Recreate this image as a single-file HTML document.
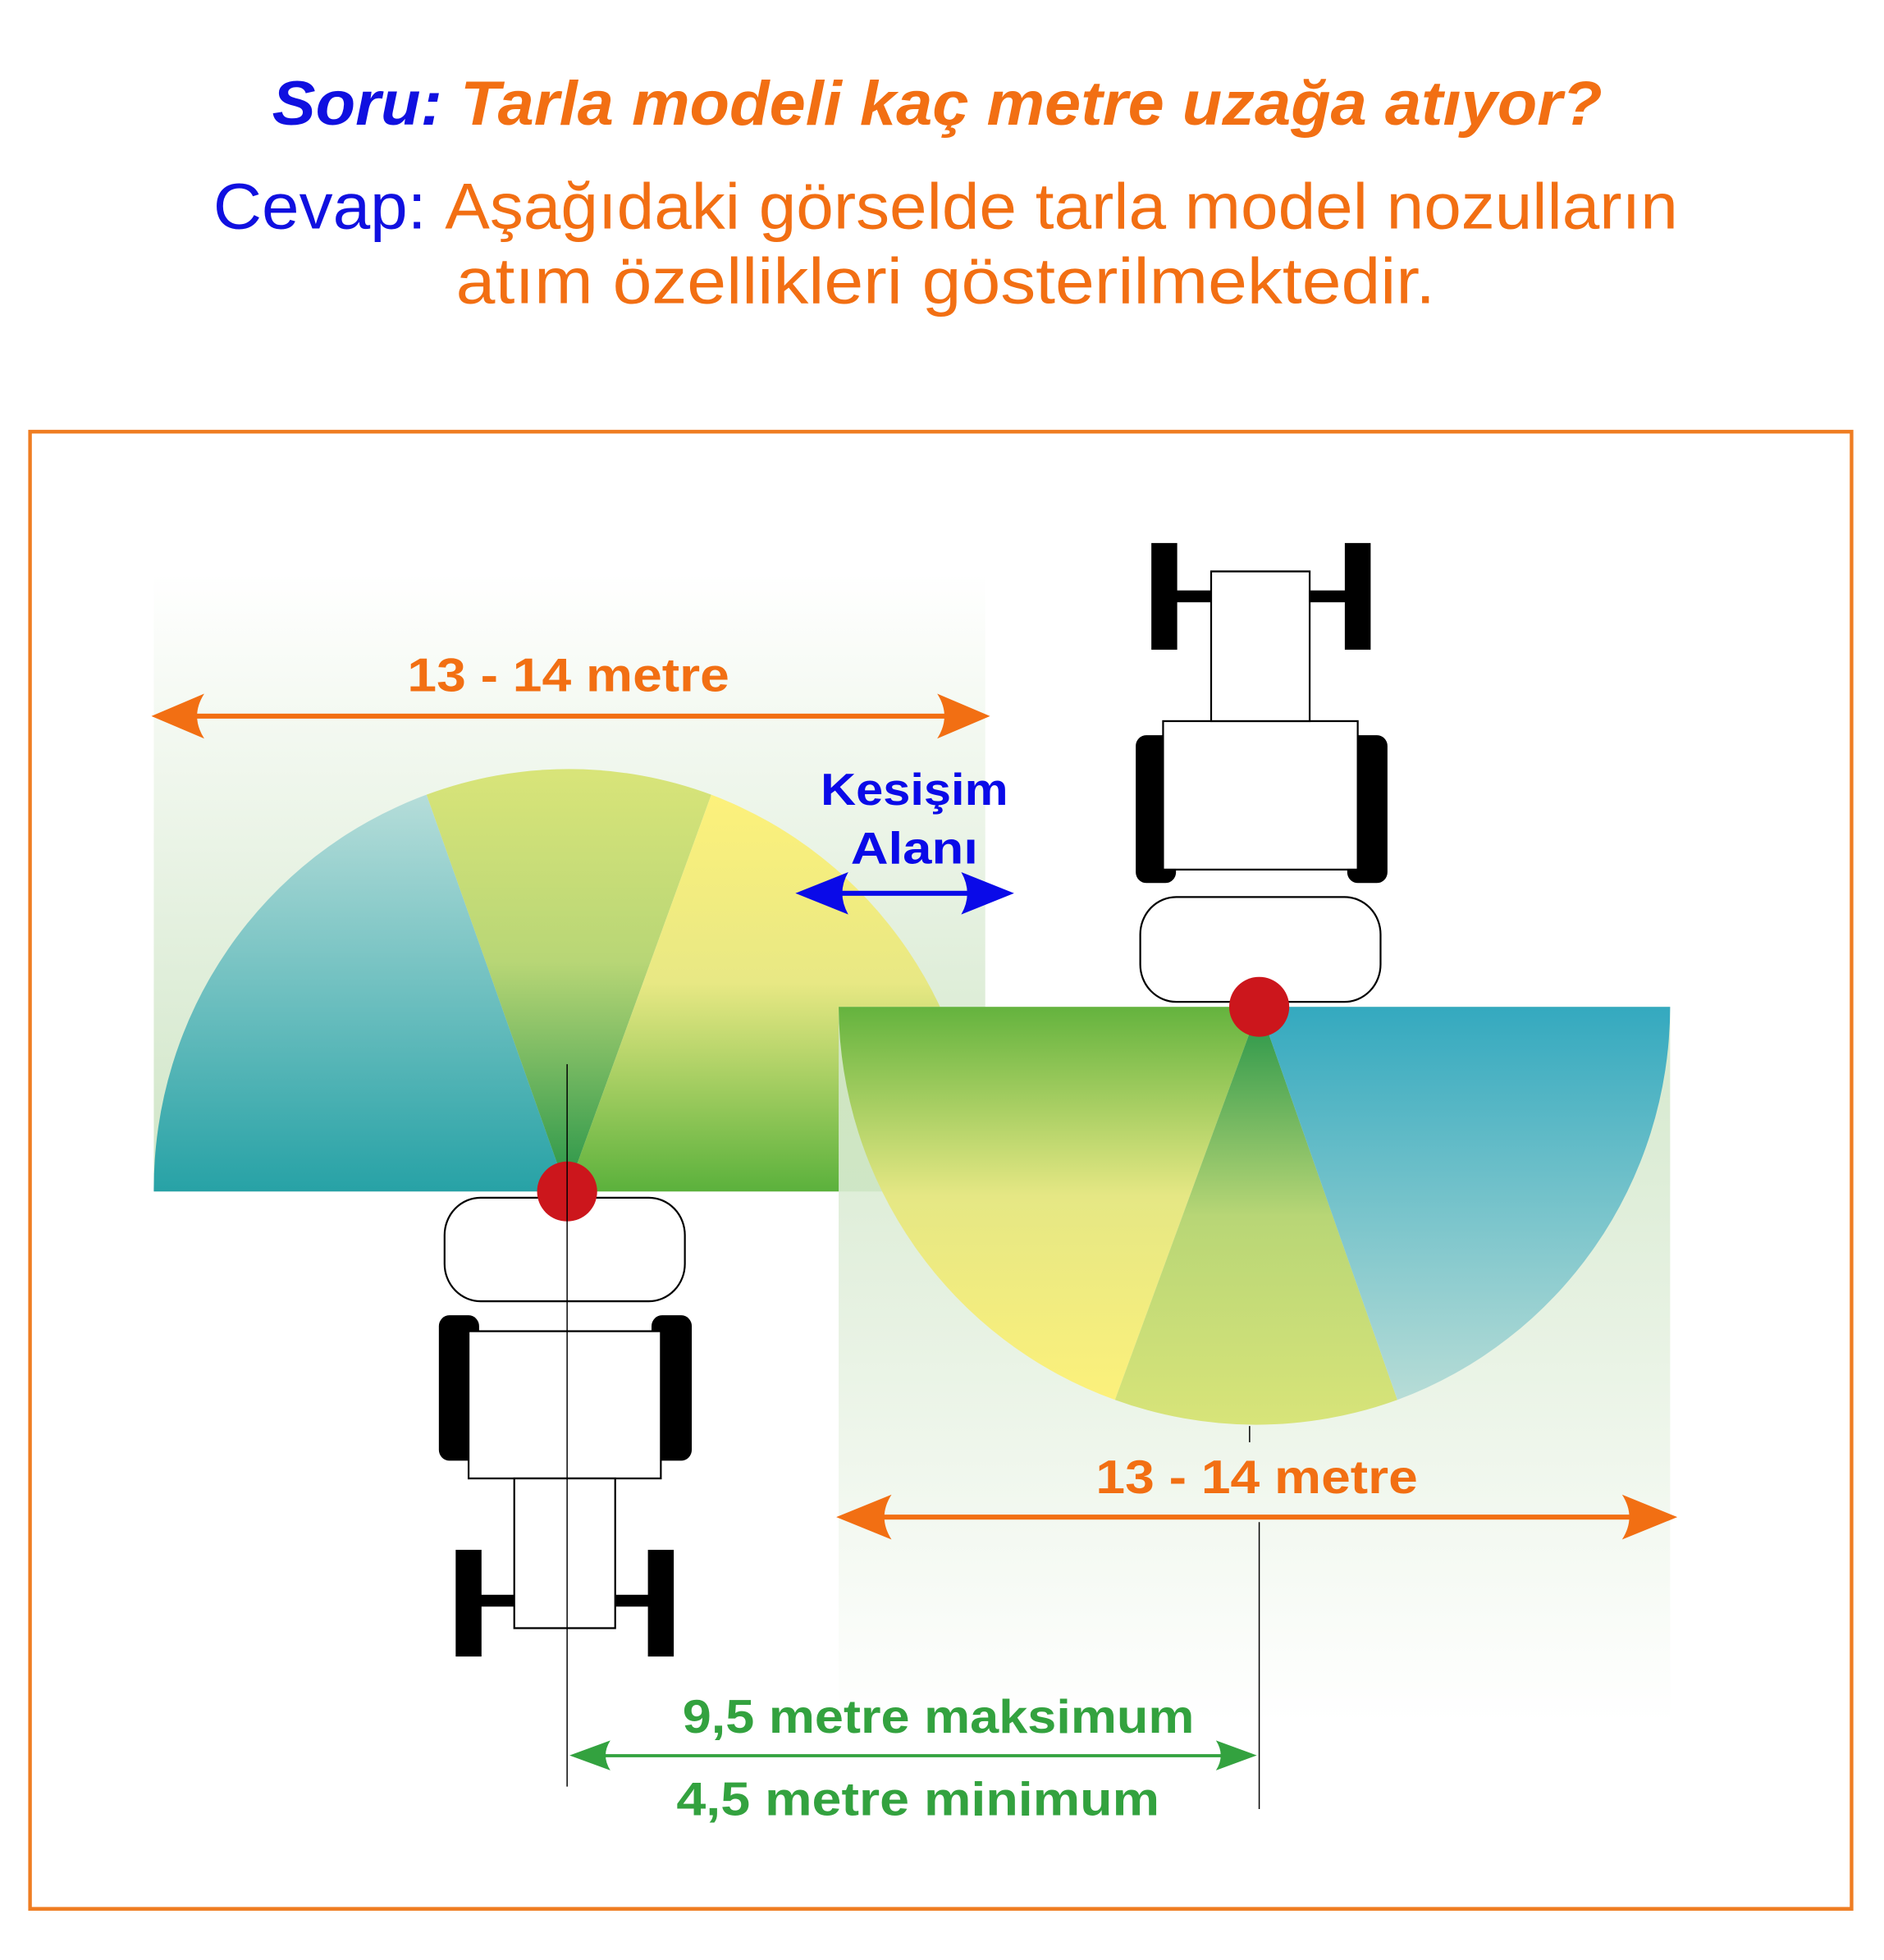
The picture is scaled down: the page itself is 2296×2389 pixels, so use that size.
<!DOCTYPE html>
<html><head><meta charset="utf-8"><style>html,body{margin:0;padding:0;background:#fff}svg{display:block}</style></head>
<body>
<svg width="2296" height="2389" viewBox="0 0 1568 1571" preserveAspectRatio="none" xmlns="http://www.w3.org/2000/svg" font-family="'Liberation Sans', sans-serif">
<defs>
<linearGradient id="bgL" x1="0" y1="0" x2="0" y2="1"><stop offset="0" stop-color="#ffffff"/><stop offset="1" stop-color="#cfe5c6"/></linearGradient>
<linearGradient id="bgR" x1="0" y1="0" x2="0" y2="1"><stop offset="0" stop-color="#cfe5c6"/><stop offset="1" stop-color="#ffffff"/></linearGradient>
<linearGradient id="lBlue" gradientUnits="userSpaceOnUse" x1="0" y1="620" x2="0" y2="955"><stop offset="0" stop-color="#bde0dc"/><stop offset="1" stop-color="#27a2a6"/></linearGradient>
<linearGradient id="lMid" gradientUnits="userSpaceOnUse" x1="0" y1="620" x2="0" y2="955"><stop offset="0" stop-color="#d8e479"/><stop offset="0.45" stop-color="#b8d676"/><stop offset="1" stop-color="#249448"/></linearGradient>
<linearGradient id="lYel" gradientUnits="userSpaceOnUse" x1="0" y1="620" x2="0" y2="955"><stop offset="0" stop-color="#fff27a"/><stop offset="0.5" stop-color="#e8e884"/><stop offset="1" stop-color="#5bb13c"/></linearGradient>
<linearGradient id="rYel" gradientUnits="userSpaceOnUse" x1="0" y1="807" x2="0" y2="1143"><stop offset="0" stop-color="#64b33e"/><stop offset="0.45" stop-color="#e5e784"/><stop offset="1" stop-color="#fff27a"/></linearGradient>
<linearGradient id="rMid" gradientUnits="userSpaceOnUse" x1="0" y1="807" x2="0" y2="1143"><stop offset="0" stop-color="#249448"/><stop offset="0.5" stop-color="#b8d676"/><stop offset="1" stop-color="#d8e479"/></linearGradient>
<linearGradient id="rBlue" gradientUnits="userSpaceOnUse" x1="0" y1="807" x2="0" y2="1143"><stop offset="0" stop-color="#34a9bf"/><stop offset="1" stop-color="#c0e0d8"/></linearGradient>
</defs>
<text x="780" y="100" text-anchor="middle" font-size="50" font-weight="bold" font-style="italic" textLength="1107" lengthAdjust="spacingAndGlyphs"><tspan fill="#1010e0">Soru: </tspan><tspan fill="#f26f13">Tarla modeli kaç metre uzağa atıyor?</tspan></text>
<text x="787" y="183" text-anchor="middle" font-size="52" textLength="1219" lengthAdjust="spacingAndGlyphs"><tspan fill="#1010e0">Cevap: </tspan><tspan fill="#f26f13">Aşağıdaki görselde tarla model nozulların</tspan></text>
<text x="787" y="243" text-anchor="middle" font-size="52" fill="#f26f13" textLength="815" lengthAdjust="spacingAndGlyphs">atım özellikleri gösterilmektedir.</text>
<rect x="25" y="346" width="1516" height="1184" fill="none" stroke="#ef7d22" stroke-width="3"/>
<rect x="128" y="460" width="692" height="495" fill="url(#bgL)"/>
<path d="M472 955 L128 955 A344 336 0 0 1 355 637 Z" fill="url(#lBlue)"/>
<path d="M472 955 L355 637 A344 336 0 0 1 592 637 Z" fill="url(#lMid)"/>
<path d="M472 955 L592 637 A344 336 0 0 1 816 955 Z" fill="url(#lYel)"/>
<rect x="698" y="807" width="692" height="573" fill="url(#bgR)" opacity="0.9"/>
<path d="M1048 807 L698 807 A346 336 0 0 0 928 1122 Z" fill="url(#rYel)"/>
<path d="M1048 807 L928 1122 A346 336 0 0 0 1163 1122 Z" fill="url(#rMid)"/>
<path d="M1048 807 L1163 1122 A346 336 0 0 0 1390 807 Z" fill="url(#rBlue)"/>
<g stroke="#000" stroke-width="1.5" fill="#fff">
<rect x="366" y="1055" width="32" height="115" rx="8" fill="#000"/>
<rect x="543" y="1055" width="32" height="115" rx="8" fill="#000"/>
<rect x="390" y="1067" width="160" height="118"/>
<rect x="370" y="960" width="200" height="83" rx="30"/>
<rect x="380" y="1243" width="20" height="84" fill="#000"/>
<rect x="540" y="1243" width="20" height="84" fill="#000"/>
<rect x="398" y="1279" width="144" height="8" fill="#000"/>
<rect x="428" y="1185" width="84" height="120"/>
<rect x="946" y="590" width="32" height="117" rx="8" fill="#000"/>
<rect x="1122" y="590" width="32" height="117" rx="8" fill="#000"/>
<rect x="968" y="578" width="162" height="119"/>
<rect x="949" y="719" width="200" height="84" rx="30"/>
<rect x="959" y="436" width="20" height="84" fill="#000"/>
<rect x="1120" y="436" width="20" height="84" fill="#000"/>
<rect x="977" y="474" width="145" height="8" fill="#000"/>
<rect x="1008" y="458" width="82" height="120"/>
</g>
<ellipse cx="472" cy="955" rx="25" ry="24" fill="#cc161c"/>
<ellipse cx="1048" cy="807" rx="25" ry="24" fill="#cc161c"/>
<g stroke="#000" stroke-width="1">
<line x1="472" y1="853" x2="472" y2="1432"/>
<line x1="1048" y1="1220" x2="1048" y2="1450"/>
<line x1="1040" y1="1143" x2="1040" y2="1156"/>
</g>
<g fill="#f26f13">
<rect x="150" y="572" width="650" height="4"/>
<path d="M126 574 L170 556 Q158 574 170 592 Z"/><path d="M824 574 L780 556 Q792 574 780 592 Z"/>
<rect x="720" y="1214" width="652" height="4"/>
<path d="M696 1216 L742 1198 Q730 1216 742 1234 Z"/><path d="M1396 1216 L1350 1198 Q1362 1216 1350 1234 Z"/>
</g>
<g fill="#0a0ae8">
<rect x="685" y="714" width="135" height="4"/>
<path d="M662 716 L706 699 Q696 716 706 733 Z"/><path d="M844 716 L800 699 Q810 716 800 733 Z"/>
</g>
<g fill="#33a23f">
<rect x="490" y="1406" width="540" height="2.5"/>
<path d="M474 1407 L508 1395 Q500 1407 508 1419 Z"/><path d="M1046 1407 L1012 1395 Q1020 1407 1012 1419 Z"/>
</g>
<g font-weight="bold" font-size="38" text-anchor="middle">
<text x="473" y="554" fill="#f26f13" textLength="268" lengthAdjust="spacingAndGlyphs">13 - 14 metre</text>
<text x="1046" y="1197" fill="#f26f13" textLength="268" lengthAdjust="spacingAndGlyphs">13 - 14 metre</text>
<text x="761" y="645" fill="#0a0ae8" font-size="36" textLength="156" lengthAdjust="spacingAndGlyphs">Kesişim</text>
<text x="761" y="692" fill="#0a0ae8" font-size="36" textLength="106" lengthAdjust="spacingAndGlyphs">Alanı</text>
<text x="781" y="1389" fill="#33a23f" textLength="426" lengthAdjust="spacingAndGlyphs">9,5 metre maksimum</text>
<text x="764" y="1455" fill="#33a23f" textLength="402" lengthAdjust="spacingAndGlyphs">4,5 metre minimum</text>
</g>
</svg>
</body></html>
